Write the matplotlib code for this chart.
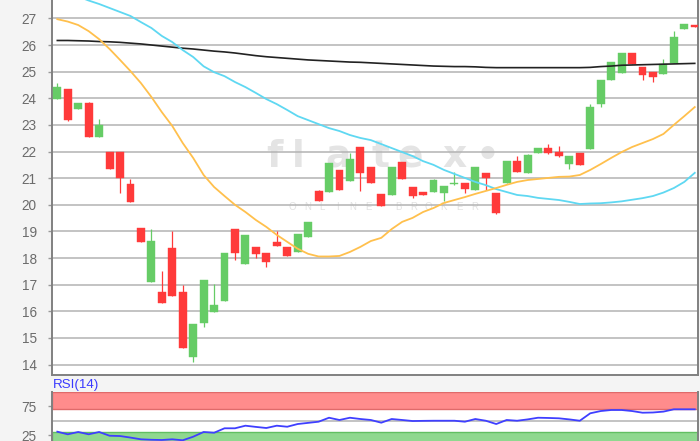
import matplotlib
matplotlib.use("Agg")
import matplotlib.pyplot as plt
import numpy as np

# ---------------- data ----------------
opens = [23.98, 24.34, 23.59, 23.81, 22.56, 22.00, 22.00, 20.78, 19.12, 17.12,
         16.74, 18.39, 16.74, 14.30, 15.56, 15.99, 16.39, 19.08, 17.77, 18.43,
         18.18, 18.60, 18.43, 18.24, 18.78, 20.51, 20.47, 21.31, 20.90, 22.18,
         21.41, 20.40, 20.37, 21.62, 20.66, 20.49, 20.49, 20.43, 20.79, 20.83,
         20.56, 21.18, 20.43, 20.83, 21.65, 21.21, 21.93, 22.12, 21.99, 21.53,
         21.96, 22.08, 23.77, 24.68, 24.94, 25.71, 25.16, 25.00, 24.90, 25.31,
         26.60, 26.77]
highs = [24.58, 24.36, 23.81, 23.86, 23.21, 22.00, 22.00, 20.98, 19.12, 19.09,
         17.53, 19.02, 16.99, 15.52, 17.18, 17.03, 18.20, 19.08, 18.87, 18.43,
         18.18, 19.03, 18.43, 18.90, 19.37, 20.56, 21.56, 21.31, 21.96, 22.18,
         21.41, 20.40, 21.43, 21.62, 20.66, 20.49, 20.96, 20.72, 21.22, 20.83,
         21.41, 21.18, 20.43, 21.65, 21.83, 21.91, 22.14, 22.28, 22.20, 21.83,
         21.96, 23.78, 24.68, 25.35, 25.71, 25.71, 25.16, 25.00, 25.46, 26.53,
         26.79, 26.77]
lows = [23.98, 23.16, 23.59, 22.56, 22.56, 21.35, 20.43, 20.12, 18.62, 17.12,
        16.33, 16.58, 14.64, 14.08, 15.41, 15.99, 16.39, 17.93, 17.77, 18.02,
        17.66, 18.47, 18.08, 18.24, 18.78, 20.13, 20.47, 20.56, 20.90, 20.52,
        20.81, 19.96, 20.37, 20.96, 20.25, 20.37, 20.49, 20.14, 20.75, 20.46,
        20.56, 20.55, 19.64, 20.83, 21.24, 21.21, 21.93, 21.91, 21.81, 21.33,
        21.50, 22.08, 23.66, 24.68, 24.94, 25.27, 24.68, 24.62, 24.90, 25.31,
        26.60, 26.68]
closes = [24.43, 23.18, 23.81, 22.56, 22.98, 21.35, 21.02, 20.12, 18.62, 18.64,
          16.33, 16.58, 14.64, 15.52, 17.18, 16.24, 18.20, 18.18, 18.87, 18.14,
          17.84, 18.47, 18.08, 18.90, 19.37, 20.13, 21.56, 20.56, 21.71, 21.21,
          20.81, 19.96, 21.43, 20.96, 20.33, 20.37, 20.93, 20.72, 20.81, 20.58,
          21.41, 21.00, 19.70, 21.65, 21.24, 21.87, 22.14, 21.96, 21.84, 21.83,
          21.50, 23.66, 24.68, 25.35, 25.71, 25.27, 24.87, 24.79, 25.29, 26.29,
          26.79, 26.68]

sma_long = [26.17, 26.17, 26.16, 26.15, 26.13, 26.12, 26.10, 26.07, 26.04, 26.00,
            25.96, 25.92, 25.88, 25.85, 25.81, 25.77, 25.74, 25.70, 25.65, 25.60,
            25.56, 25.53, 25.50, 25.47, 25.44, 25.42, 25.40, 25.38, 25.36, 25.35,
            25.33, 25.31, 25.29, 25.27, 25.25, 25.23, 25.21, 25.20, 25.19, 25.19,
            25.18, 25.16, 25.15, 25.15, 25.15, 25.15, 25.15, 25.15, 25.15, 25.15,
            25.15, 25.16, 25.19, 25.21, 25.24, 25.25, 25.26, 25.27, 25.28, 25.29,
            25.30, 25.31]
sma_mid = [28.10, 27.95, 27.82, 27.67, 27.54, 27.39, 27.24, 27.09, 26.86, 26.64,
           26.34, 26.11, 25.81, 25.55, 25.20, 24.98, 24.83, 24.61, 24.42, 24.20,
           23.97, 23.78, 23.56, 23.33, 23.18, 23.03, 22.88, 22.77, 22.62, 22.51,
           22.43, 22.28, 22.13, 21.98, 21.83, 21.64, 21.50, 21.31, 21.16, 21.01,
           20.86, 20.74, 20.59, 20.48, 20.37, 20.33, 20.26, 20.22, 20.18, 20.11,
           20.03, 20.05, 20.06, 20.09, 20.13, 20.19, 20.25, 20.33, 20.46, 20.63,
           20.86, 21.20]
sma_short = [26.97, 26.88, 26.75, 26.52, 26.22, 25.85, 25.44, 25.02, 24.57, 24.05,
             23.48, 22.96, 22.32, 21.76, 21.12, 20.67, 20.33, 20.00, 19.73, 19.43,
             19.17, 18.87, 18.61, 18.35, 18.16, 18.06, 18.06, 18.08, 18.23, 18.42,
             18.64, 18.76, 19.09, 19.36, 19.51, 19.73, 19.88, 20.07, 20.18, 20.29,
             20.41, 20.52, 20.63, 20.75, 20.86, 20.93, 20.97, 21.01, 21.05, 21.06,
             21.12, 21.31, 21.53, 21.76, 21.98, 22.17, 22.32, 22.47, 22.66, 23.00,
             23.33, 23.67]
rsi = [31.2, 26.7, 30.7, 26.7, 30.7, 24.2, 23.7, 21.0, 18.0, 17.2,
       16.8, 18.0, 16.3, 22.5, 30.7, 29.4, 37.1, 37.1, 41.6, 39.5,
       37.6, 41.6, 39.8, 44.5, 46.5, 48.5, 55.4, 51.5, 55.4, 53.2,
       51.5, 46.8, 53.2, 51.5, 49.7, 50.0, 50.2, 50.2, 50.2, 48.5,
       53.2, 50.2, 44.5, 51.5, 50.2, 52.5, 55.4, 55.0, 54.4, 52.5,
       50.2, 63.1, 67.0, 68.8, 68.8, 67.0, 64.1, 64.5, 66.0, 70.0,
       70.0, 70.0]

price_ticks = [14, 15, 16, 17, 18, 19, 20, 21, 22, 23, 24, 25, 26, 27]
rsi_ticks = [25, 75]
rsi_label = "RSI(14)"
watermark_word = ["f", "l", "a", "t", "e", "x", "\u2022"]
watermark_sub = "ONLINE BROKER"

# ---------------- style ----------------
plt.rcParams['font.family'] = ['Liberation Sans', 'DejaVu Sans']
UP = '#66cc66'
DOWN = '#ff3a3a'
TICKC = '#6b6b6b'
W, H = 700, 441

fig = plt.figure(figsize=(7.0, 4.41), dpi=100, facecolor='#f4f4f4')

# main price panel
ax = fig.add_axes([52 / W, 66 / H, 646 / W, 375 / H])
ax.set_facecolor('white')
x = np.arange(len(opens))
o = np.array(opens); c = np.array(closes)
hi = np.array(highs); lo = np.array(lows)
up = c >= o
cols = np.where(up, UP, DOWN)
body_bottom = np.minimum(o, c)
body_h = np.maximum(np.abs(c - o), 0.03)

ax.vlines(x, lo, hi, colors=cols, linewidth=0.9, zorder=3)
ax.bar(x, body_h, bottom=body_bottom, width=0.76, color=cols,
       edgecolor=cols, linewidth=0.3, zorder=4)

ax.plot(x, sma_long, color='#222222', linewidth=1.2, zorder=5)
ax.plot(x, sma_mid, color='#5fd8f2', linewidth=1.3, zorder=5)
ax.plot(x, sma_short, color='#ffc04d', linewidth=1.3, zorder=5)

ax.set_xlim(-0.51, 61.31)
ax.set_ylim(13.61, 27.69)
ax.set_yticks(price_ticks)
ax.set_yticklabels([str(t) for t in price_ticks])
ax.set_xticks([])
ax.yaxis.grid(True, color='#b3b3b3', linewidth=1.1)
ax.set_axisbelow(True)
ax.tick_params(axis='y', length=3, width=1, color='#999999', colors=TICKC,
               labelsize=9.8, pad=8)
for side in ['left', 'bottom', 'right']:
    ax.spines[side].set_color('#808080')
    ax.spines[side].set_linewidth(1.4)
ax.spines['top'].set_visible(False)

# watermark
wm_px = [274, 298, 338, 381, 410, 455, 488]
for ch, px in zip(watermark_word, wm_px):
    ax.text(px / W, 1 - 167 / H, ch, transform=fig.transFigure, ha='center',
            va='baseline', fontsize=27, fontweight='bold', color='#e4e4e4',
            family=['DejaVu Sans'], zorder=0.3)
for k, ch in enumerate(watermark_sub):
    ax.text((292 + 15.2 * k) / W, 1 - 207 / H, ch, transform=fig.transFigure,
            ha='center', va='center', fontsize=7, color='#e2e2e2', zorder=0.3)

# RSI panel
ax2 = fig.add_axes([52 / W, -8.7 / H, 646 / W, 57.7 / H])
ax2.set_facecolor('white')
ax2.set_xlim(-0.51, 61.31)
ax2.set_ylim(0, 100)
ax2.axhspan(70, 100, facecolor='#ff8c8c', edgecolor='#e06a6a', linewidth=1.0, zorder=1)
ax2.axhspan(0, 30, facecolor='#8fd88f', edgecolor='#62bf62', linewidth=1.0, zorder=1)
ax2.axhline(50, color='#b3b3b3', linewidth=1.1, zorder=1.5)
ax2.plot(x, rsi, color='#3f3fff', linewidth=1.3, zorder=3)
ax2.set_xticks([])
ax2.set_yticks(rsi_ticks)
ax2.set_yticklabels([str(t) for t in rsi_ticks])
ax2.tick_params(axis='y', length=3, width=1, color='#999999', colors=TICKC,
                labelsize=9.8, pad=8)
for side in ['left', 'right', 'bottom']:
    ax2.spines[side].set_color('#808080')
    ax2.spines[side].set_linewidth(1.4)
ax2.spines['top'].set_visible(False)

fig.text(53 / W, 1 - 385 / H, rsi_label, color='#3a3aff', fontsize=9.6,
         ha='left', va='center')

fig.savefig('out.png', dpi=100, facecolor=fig.get_facecolor())
